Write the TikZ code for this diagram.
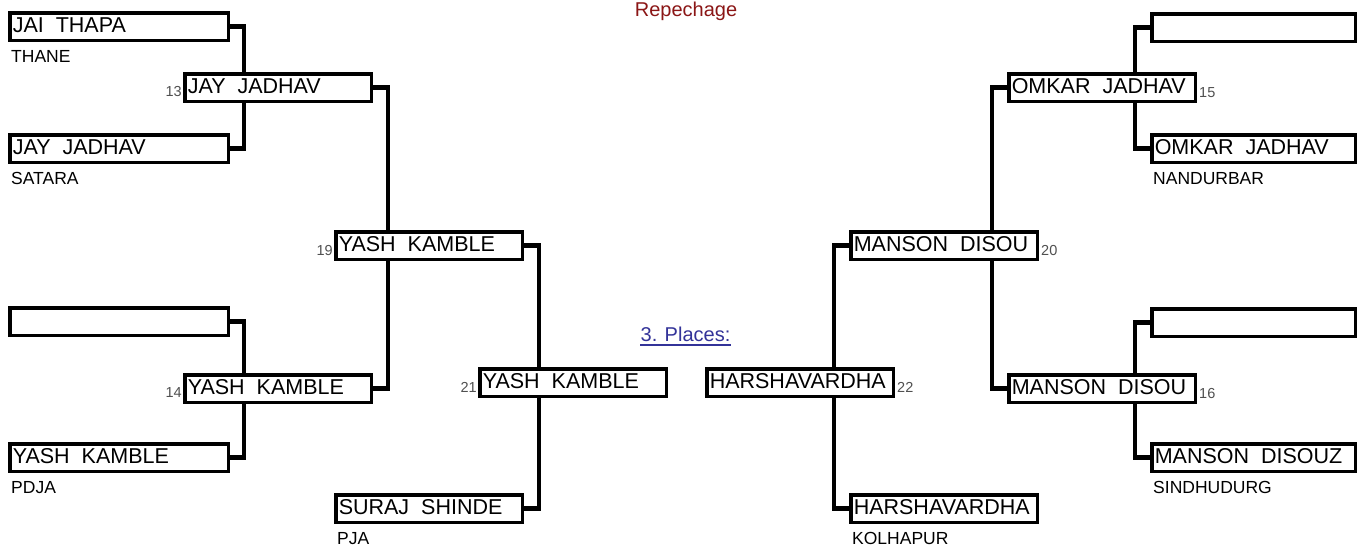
\documentclass[tikz,border=0pt]{standalone}
\usepackage{fontspec}
\setmainfont{Liberation Sans}
\usetikzlibrary{calc}
\definecolor{repred}{RGB}{139,22,22}
\definecolor{placeblue}{RGB}{51,51,153}
\definecolor{numgray}{RGB}{80,80,80}
\newcommand\wgap{\hspace{12pt}}
\tikzset{
  box/.style={draw, line width=3.5pt, fill=white, inner xsep=3pt, inner ysep=0pt,
    minimum height=27.5pt,
    text height=15.5pt, text depth=3.5pt, align=left, anchor=north west,
    font=\fontsize{21.5}{21.5}\selectfont},
  wbox/.style={box, text width=212.5pt},
  mbox/.style={box, text width=180.5pt},
  rbox/.style={box, text width=197.5pt},
  conn/.style={line width=4.5pt, line join=miter},
  place/.style={font=\fontsize{17.5}{17.5}\selectfont, inner sep=0pt, anchor=base west},
  numl/.style={font=\fontsize{14.5}{14.5}\selectfont, text=numgray, inner sep=0pt, anchor=base east},
  numr/.style={font=\fontsize{14.5}{14.5}\selectfont, text=numgray, inner sep=0pt, anchor=base west},
}
\begin{document}
\begin{tikzpicture}[x=1pt,y=-1pt]
\fill[white] (0,0) rectangle (1363,547);
\useasboundingbox (0,0) rectangle (1363,547);

% titles
\node[font=\fontsize{20}{20}\selectfont, text=repred, inner sep=0pt, anchor=base] (rep) at (686,16) {Repechage};
\node[font=\fontsize{20}{20}\selectfont, text=placeblue, inner sep=0pt, anchor=base] (places) at (685.5,341) {3. Places:};
\draw[placeblue, line width=1.5pt] ($(places.base west)+(0,4)$) -- ($(places.base east)+(0,4)$);

% left column
\node[wbox] (L1) at (8,11) {JAI\wgap THAPA};
\node[wbox] (L2) at (8,133) {JAY\wgap JADHAV};
\node[wbox] (L3) at (8,306) {};
\node[wbox] (L4) at (8,442) {YASH\wgap KAMBLE};
\node[place] (cL1) at ($(L1.south west)+(3,20)$) {THANE};
\node[place] (cL2) at ($(L2.south west)+(3,20)$) {SATARA};
\node[place] (cL4) at ($(L4.south west)+(3,20)$) {PDJA};

\node[mbox] (M13) at (183,72) {JAY\wgap JADHAV};
\node[mbox] (M14) at (183,373) {YASH\wgap KAMBLE};
\node[mbox] (M19) at (334,230) {YASH\wgap KAMBLE};
\node[mbox] (M21) at (478,367) {YASH\wgap KAMBLE};
\node[mbox] (S1) at (334,493) {SURAJ\wgap SHINDE};
\node[place] (cS1) at ($(S1.south west)+(3,20)$) {PJA};

\node[numl] (n13) at ($(M13.south west)+(-1,-7)$) {13};
\node[numl] (n14) at ($(M14.south west)+(-1,-7)$) {14};
\node[numl] (n19) at ($(M19.south west)+(-1,-6)$) {19};
\node[numl] (n21) at ($(M21.south west)+(-1,-6)$) {21};

% right column
\node[rbox] (R1) at (1150,12) {};
\node[rbox] (R2) at (1150,133) {OMKAR\wgap JADHAV};
\node[rbox] (R3) at (1150,307) {};
\node[rbox] (R4) at (1150,442) {MANSON\wgap DISOUZ};
\node[place] (cR2) at ($(R2.south west)+(3,20)$) {NANDURBAR};
\node[place] (cR4) at ($(R4.south west)+(3,20)$) {SINDHUDURG};

\node[mbox] (M15) at (1007,72) {OMKAR\wgap JADHAV};
\node[mbox] (M16) at (1007,373) {MANSON\wgap DISOU};
\node[mbox] (M20) at (849,230) {MANSON\wgap DISOU};
\node[mbox] (M22) at (705,367) {HARSHAVARDHA};
\node[mbox] (H1) at (849,493) {HARSHAVARDHA};
\node[place] (cH1) at ($(H1.south west)+(3,20)$) {KOLHAPUR};

\node[numr] (n15) at ($(M15.south east)+(2,-6)$) {15};
\node[numr] (n16) at ($(M16.south east)+(2,-6)$) {16};
\node[numr] (n20) at ($(M20.south east)+(2,-6)$) {20};
\node[numr] (n22) at ($(M22.south east)+(2,-6)$) {22};

% connectors left
\draw[conn] (L1.east) -- ++(14,0) coordinate (a1) -- (a1 |- M13.north);
\draw[conn] (M13.south -| a1) -- (a1 |- L2.east) -- (L2.east);
\draw[conn] (L3.east) -- ++(14,0) coordinate (a2) -- (a2 |- M14.north);
\draw[conn] (M14.south -| a2) -- (a2 |- L4.east) -- (L4.east);
\draw[conn] (M13.east) -- ++(15,0) coordinate (a3) -- (a3 |- M19.north);
\draw[conn] (M19.south -| a3) -- (a3 |- M14.east) -- (M14.east);
\draw[conn] (M19.east) -- ++(15,0) coordinate (a4) -- (a4 |- M21.north);
\draw[conn] (M21.south -| a4) -- (a4 |- S1.east) -- (S1.east);

% connectors right
\draw[conn] (R1.west) -- ++(-15,0) coordinate (b1) -- (b1 |- M15.north);
\draw[conn] (M15.south -| b1) -- (b1 |- R2.west) -- (R2.west);
\draw[conn] (R3.west) -- ++(-15,0) coordinate (b2) -- (b2 |- M16.north);
\draw[conn] (M16.south -| b2) -- (b2 |- R4.west) -- (R4.west);
\draw[conn] (M15.west) -- ++(-15,0) coordinate (b3) -- (b3 |- M20.north);
\draw[conn] (M20.south -| b3) -- (b3 |- M16.west) -- (M16.west);
\draw[conn] (M20.west) -- ++(-15,0) coordinate (b4) -- (b4 |- M22.north);
\draw[conn] (M22.south -| b4) -- (b4 |- H1.west) -- (H1.west);
\end{tikzpicture}
\end{document}
